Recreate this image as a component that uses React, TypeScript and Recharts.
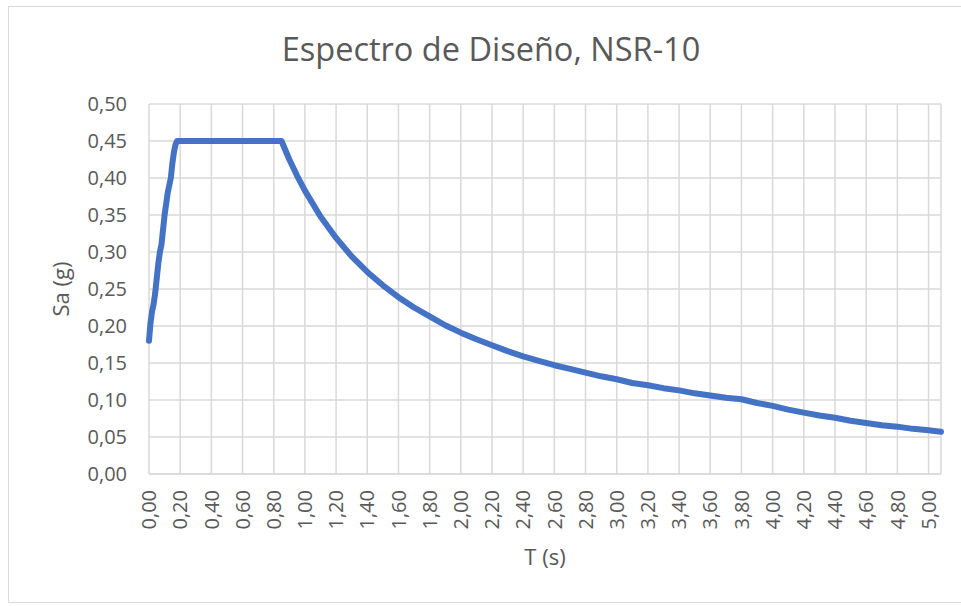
import React from 'react';
import { LineChart, Line, XAxis, YAxis, CartesianGrid } from 'recharts';

// Periodo T (s)
const periods = [
  0.0, 0.01, 0.02, 0.03, 0.04, 0.05, 0.06, 0.07, 0.08, 0.09, 0.1, 0.11, 0.12, 0.13, 0.14,
  0.15, 0.16, 0.17, 0.18, 0.3, 0.5, 0.7, 0.85, 0.9, 0.95, 1.0, 1.1, 1.2, 1.3, 1.4, 1.5,
  1.6, 1.7, 1.8, 1.9, 2.0, 2.1, 2.2, 2.3, 2.4, 2.5, 2.6, 2.7, 2.8, 2.9, 3.0, 3.1, 3.2,
  3.3, 3.4, 3.5, 3.6, 3.7, 3.8, 3.9, 4.0, 4.1, 4.2, 4.3, 4.4, 4.5, 4.6, 4.7, 4.8, 4.9,
  5.0, 5.08
];

// Aceleración espectral Sa (g)
const accelerations = [
  0.18, 0.205, 0.22, 0.23, 0.245, 0.265, 0.285, 0.3, 0.31, 0.33, 0.35, 0.365, 0.38, 0.39, 0.4,
  0.42, 0.435, 0.445, 0.45, 0.45, 0.45, 0.45, 0.45, 0.425, 0.403, 0.383, 0.348, 0.319, 0.294,
  0.273, 0.255, 0.239, 0.225, 0.213, 0.201, 0.191, 0.182, 0.174, 0.166, 0.159, 0.153, 0.147,
  0.142, 0.137, 0.132, 0.128, 0.123, 0.12, 0.116, 0.113, 0.109, 0.106, 0.103, 0.101, 0.096,
  0.092, 0.087, 0.083, 0.079, 0.076, 0.072, 0.069, 0.066, 0.064, 0.061, 0.059, 0.057
];

const xTicks = [
  0, 0.2, 0.4, 0.6, 0.8, 1.0, 1.2, 1.4, 1.6, 1.8, 2.0, 2.2, 2.4, 2.6, 2.8, 3.0, 3.2, 3.4,
  3.6, 3.8, 4.0, 4.2, 4.4, 4.6, 4.8, 5.0
];
const yTicks = [0, 0.05, 0.1, 0.15, 0.2, 0.25, 0.3, 0.35, 0.4, 0.45, 0.5];

const data = periods.map((t, i) => ({ t, sa: accelerations[i] }));

const FONT = '"Open Sans", sans-serif';
const TEXT = '#595959';
const GRID = '#d9d9d9';

const fmt = (v: number) => v.toFixed(2).replace('.', ',');

const RotatedTick = ({ x, y, payload }: any) => (
  <text
    x={x}
    y={y}
    dy="0.36em"
    transform={`rotate(-90, ${x}, ${y})`}
    textAnchor="end"
    fill={TEXT}
    fontSize={20}
    fontFamily={FONT}
  >
    {fmt(payload.value)}
  </text>
);

export default function App() {
  return (
    <div style={{ position: 'absolute', left: 0, top: 0, width: 961, height: 606, background: '#fff', overflow: 'hidden' }}>
      <div
        style={{
          position: 'absolute',
          left: 8,
          top: 6,
          width: 980,
          height: 597,
          border: `1px solid ${GRID}`,
          boxSizing: 'border-box'
        }}
      />
      <LineChart
        width={961}
        height={606}
        data={data}
        margin={{ top: 104, right: 20, bottom: 0, left: 0 }}
        style={{ position: 'absolute', left: 0, top: 0 }}
      >
        <CartesianGrid stroke={GRID} strokeWidth={1.5} />
        <XAxis
          dataKey="t"
          type="number"
          domain={[0, 5.08]}
          ticks={xTicks}
          interval={0}
          height={132}
          axisLine={{ stroke: GRID, strokeWidth: 1.5 }}
          tickLine={false}
          tickSize={8}
          tickMargin={8}
          tick={<RotatedTick />}
        />
        <YAxis
          type="number"
          domain={[0, 0.5]}
          ticks={yTicks}
          interval={0}
          width={149}
          axisLine={false}
          tickLine={false}
          tickSize={0}
          tickMargin={22}
          tickFormatter={fmt}
          tick={{ fill: TEXT, fontSize: 20, fontFamily: FONT }}
        />
        <Line
          type="linear"
          dataKey="sa"
          stroke="#4472c4"
          strokeWidth={6}
          strokeLinejoin="round"
          strokeLinecap="round"
          dot={false}
          isAnimationActive={false}
        />
      </LineChart>
      <svg width={961} height={606} style={{ position: 'absolute', left: 0, top: 0, pointerEvents: 'none' }}>
        <text x={491} y={61} textAnchor="middle" fill={TEXT} fontSize={32.5} fontFamily={FONT}>
          Espectro de Diseño, NSR-10
        </text>
        <text x={545} y={565} textAnchor="middle" fill={TEXT} fontSize={22} fontFamily={FONT}>
          T (s)
        </text>
        <text
          x={69}
          y={289}
          textAnchor="middle"
          transform="rotate(-90, 69, 289)"
          fill={TEXT}
          fontSize={22}
          fontFamily={FONT}
        >
          Sa (g)
        </text>
      </svg>
    </div>
  );
}
